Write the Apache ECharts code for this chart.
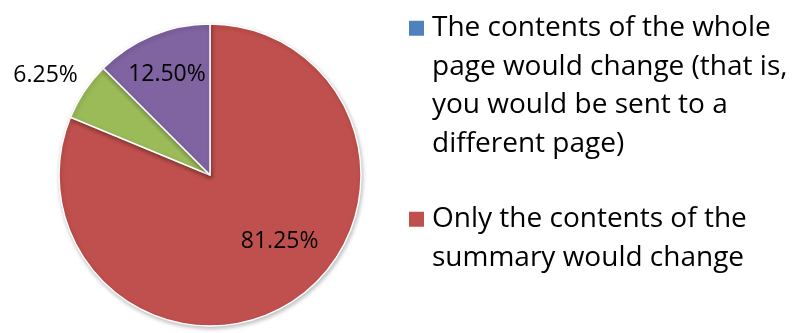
<!DOCTYPE html>
<html>
<head>
<meta charset="utf-8">
<script src="https://cdn.jsdelivr.net/npm/echarts@6/dist/echarts.min.js"></script>
<style>html,body{margin:0;padding:0;background:#fff;}#c{width:792px;height:333px;}</style>
</head>
<body>
<div id="c"></div>
<script>
var categories = [
  "The contents of the whole page would change (that is, you would be sent to a different page)",
  "Only the contents of the summary would change",
  "Category 3",
  "Category 4"
];
var legendLines = [
  ["The contents of the whole", "page would change (that is,", "you would be sent to a", "different page)"],
  ["Only the contents of the", "summary would change"]
];
var counts = [0, 13, 1, 2];
var colors = ["#4F81BD", "#C0504D", "#9BBB59", "#8064A2"];

var FONT = "Open Sans";
var chart = echarts.init(document.getElementById('c'), null, {renderer: 'canvas'});

var data = categories.map(function (n, i) {
  var d = {name: n, value: counts[i], itemStyle: {color: colors[i]}, label: {show: counts[i] > 0}};
  if (i === 2) {
    d.label = {show: true, position: 'outside'};
    d.labelLine = {show: false, length: 20, length2: 0};
  }
  return d;
});

var labelShift = {1: [26, 1], 2: [15, -5], 3: [-13, -28]};

chart.setOption({
  animation: false,
  legend: {
    orient: 'vertical',
    left: 398,
    top: 4,
    itemGap: 37,
    itemWidth: 0,
    itemHeight: 0,
    data: [categories[0], categories[1]],
    formatter: function (name) {
      var idx = categories.indexOf(name);
      var lines = legendLines[idx];
      var key = idx === 0 ? 'sqA' : 'sqB';
      return lines.map(function (l, j) {
        return (j === 0 ? '{' + key + '|}' : '{ind|}') + '{gap|}{t|' + l + '}';
      }).join('\n');
    },
    textStyle: {
      fontFamily: FONT,
      fontSize: 28,
      color: '#000',
      lineHeight: 38.5,
      rich: {
        sqA: {width: 15, height: 15, backgroundColor: colors[0]},
        sqB: {width: 15, height: 15, backgroundColor: colors[1]},
        ind: {width: 15, height: 15},
        gap: {width: 8},
        t: {fontFamily: FONT, fontSize: 28, color: '#000', lineHeight: 38.5}
      }
    }
  },
  series: [{
    type: 'pie',
    center: [210, 175],
    radius: 151,
    startAngle: 90,
    clockwise: true,
    avoidLabelOverlap: false,
    data: data,
    itemStyle: {
      borderColor: '#fff',
      borderWidth: 1.5,
      shadowBlur: 4,
      shadowColor: 'rgba(0,0,0,0.25)',
      shadowOffsetX: 1,
      shadowOffsetY: 2
    },
    label: {
      position: 'inside',
      fontFamily: FONT,
      fontSize: 23,
      color: '#000',
      formatter: function (p) { return p.percent.toFixed(2) + '%'; }
    },
    labelLine: {show: false},
    labelLayout: function (p) {
      var s = labelShift[p.dataIndex] || [0, 0];
      return {dx: s[0], dy: s[1]};
    },
    emphasis: {disabled: true}
  }]
});
</script>
</body>
</html>
